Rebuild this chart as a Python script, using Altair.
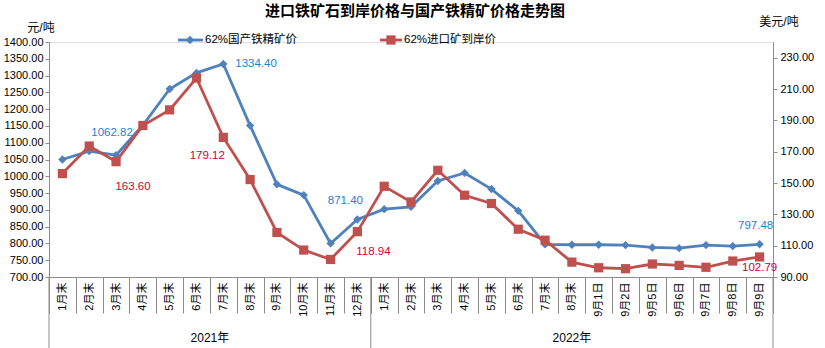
import altair as alt
import pandas as pd

years = ["2021"] * 12 + ["2022"] * 15
categories = ["1月末", "2月末", "3月末", "4月末", "5月末", "6月末", "7月末", "8月末", "9月末", "10月末", "11月末", "12月末",
              "1月末", "2月末", "3月末", "4月末", "5月末", "6月末", "7月末", "8月末",
              "9月1日", "9月2日", "9月5日", "9月6日", "9月7日", "9月8日", "9月9日"]
domestic = [1050, 1075, 1062.82, 1152, 1260, 1308, 1334.40, 1151, 976, 944, 800, 871.40,
            902, 909, 986, 1010, 962, 897, 797, 796, 796, 795, 788, 786, 795, 792, 797.48]
imported = [156, 173.6, 163.60, 186.7, 196.7, 217, 179.12, 152.2, 118.4, 107.2, 101.2, 118.94,
            147.9, 137.9, 158.1, 142.2, 136.9, 120.5, 113.5, 99.5, 95.9, 95.3, 98.3, 97.4, 96.2, 100.2, 102.79]
left_ticks = list(range(700, 1401, 50))
right_ticks = list(range(90, 231, 20))
series_names = ["62%国产铁精矿价", "62%进口矿到岸价"]
group_names = ["2021年", "2022年"]

keys = [f"{y}|{c}" for y, c in zip(years, categories)]
df = pd.DataFrame({"idx": list(range(len(keys))), "key": keys, "domestic": domestic, "imported": imported})

BLUE = "#4F81BD"
RED = "#C0504D"
BLUE_TXT = "#1F7FD6"
RED_TXT = "#CC0033"
GRAY = "#8C8C8C"
FONT = "Liberation Sans, Noto Sans CJK SC"

W, H = 724, 235

xenc = alt.X("key:N", sort=None, title=None,
             scale=alt.Scale(type="band", paddingInner=0, paddingOuter=0),
             axis=alt.Axis(labelAngle=270, labelExpr="split(datum.value, '|')[1]",
                           tickBand="extent", tickSize=36, tickColor=GRAY, domainColor=GRAY,
                           labelPadding=-31, labelFontSize=11, labelFont=FONT, labelColor="black",
                           labelAlign="right", labelBaseline="middle"))

yl = alt.Y("domestic:Q", title=None,
           scale=alt.Scale(domain=[700, 1400], nice=False, zero=False),
           axis=alt.Axis(orient="left", values=left_ticks, format=".2f", grid=False,
                         tickSize=4, tickColor=GRAY, domainColor=GRAY, labelPadding=2,
                         labelFontSize=11, labelFont=FONT, labelColor="black"))
yr = alt.Y("imported:Q", title=None,
           scale=alt.Scale(domain=[90, 240], nice=False, zero=False),
           axis=alt.Axis(orient="right", values=right_ticks, format=".2f", grid=False,
                         tickSize=4, tickColor=GRAY, domainColor=GRAY, labelPadding=3,
                         labelFontSize=11, labelFont=FONT, labelColor="black"))

base = alt.Chart(df)

blue_line = base.mark_line(color=BLUE, strokeWidth=2.8,
                           point=alt.OverlayMarkDef(shape="diamond", size=70, filled=True, color=BLUE, opacity=1)
                           ).encode(x=xenc, y=yl)
red_line = base.mark_line(color=RED, strokeWidth=2.8,
                          point=alt.OverlayMarkDef(shape="square", size=85, filled=True, color=RED, opacity=1)
                          ).encode(x=xenc, y=yr)

blue_label_specs = [(2, -4, -22, "center"), (6, 12, 0, "left"), (11, -12, -18, "center"), (26, -4, -18, "center")]
red_label_specs = [(2, 17, 25, "center"), (6, -16, 19, "center"), (11, 16, 20, "center"), (26, 0, 11, "center")]

blue_layers = [blue_line]
for i, dx, dy, al in blue_label_specs:
    blue_layers.append(base.transform_filter(f"datum.idx == {i}").mark_text(
        color=BLUE_TXT, fontSize=11.5, font=FONT, dx=dx, dy=dy, align=al, baseline="middle"
    ).encode(x=xenc, y=yl, text=alt.Text("domestic:Q", format=".2f")))

red_layers = [red_line]
for i, dx, dy, al in red_label_specs:
    red_layers.append(base.transform_filter(f"datum.idx == {i}").mark_text(
        color=RED_TXT, fontSize=11.5, font=FONT, dx=dx, dy=dy, align=al, baseline="middle"
    ).encode(x=xenc, y=yr, text=alt.Text("imported:Q", format=".2f")))

blue = alt.layer(*blue_layers)
red = alt.layer(*red_layers)

# group labels under the x axis
grp_df = pd.DataFrame({"key": [keys[5], keys[19]], "name": group_names})
grp_text_2021 = alt.Chart(grp_df.iloc[[0]]).mark_text(fontSize=12, font=FONT, color="black", baseline="middle").encode(
    x=alt.X("key:N", sort=None, bandPosition=1, title=None), y=alt.value(296), text="name:N")
grp_text_2022 = alt.Chart(grp_df.iloc[[1]]).mark_text(fontSize=12, font=FONT, color="black", baseline="middle").encode(
    x=alt.X("key:N", sort=None, bandPosition=0.5, title=None), y=alt.value(296), text="name:N")

sep_df = pd.DataFrame({"key": [keys[0], keys[12]]})
sep_start = alt.Chart(sep_df).mark_rule(color=GRAY, strokeWidth=1).encode(
    x=alt.X("key:N", sort=None, bandPosition=0, title=None), y=alt.value(H), y2=alt.value(306))
sep_end = alt.Chart(pd.DataFrame({"key": [keys[-1]]})).mark_rule(color=GRAY, strokeWidth=1).encode(
    x=alt.X("key:N", sort=None, bandPosition=1, title=None), y=alt.value(H), y2=alt.value(306))

# title and axis titles
one = pd.DataFrame({"t": ["进口铁矿石到岸价格与国产铁精矿价格走势图"]})
title = alt.Chart(one).mark_text(fontSize=15, fontWeight="bold", font="Noto Sans CJK SC", color="black",
                                 baseline="middle").encode(x=alt.value(366), y=alt.value(-31), text="t:N")
ytl = alt.Chart(pd.DataFrame({"t": ["元/吨"]})).mark_text(fontSize=12, font=FONT, color="black",
                                                        baseline="middle").encode(x=alt.value(-8), y=alt.value(-14), text="t:N")
ytr = alt.Chart(pd.DataFrame({"t": ["美元/吨"]})).mark_text(fontSize=12, font=FONT, color="black",
                                                          baseline="middle").encode(x=alt.value(730), y=alt.value(-20), text="t:N")

# legend
leg1 = pd.DataFrame({"t": [series_names[0]]})
leg2 = pd.DataFrame({"t": [series_names[1]]})
leg_layers = [
    alt.Chart(leg1).mark_rule(color=BLUE, strokeWidth=2.8).encode(x=alt.value(129), x2=alt.value(154), y=alt.value(-2)),
    alt.Chart(leg1).mark_point(shape="diamond", size=70, filled=True, color=BLUE, opacity=1).encode(x=alt.value(141), y=alt.value(-2)),
    alt.Chart(leg1).mark_text(fontSize=11.5, font=FONT, color="black", align="left", baseline="middle").encode(
        x=alt.value(156), y=alt.value(-2), text="t:N"),
    alt.Chart(leg2).mark_rule(color=RED, strokeWidth=2.8).encode(x=alt.value(331), x2=alt.value(353), y=alt.value(-2)),
    alt.Chart(leg2).mark_point(shape="square", size=85, filled=True, color=RED, opacity=1).encode(x=alt.value(342), y=alt.value(-2)),
    alt.Chart(leg2).mark_text(fontSize=11.5, font=FONT, color="black", align="left", baseline="middle").encode(
        x=alt.value(355), y=alt.value(-2), text="t:N"),
]

chart = alt.layer(
    blue, red, grp_text_2021, grp_text_2022, sep_start, sep_end, title, ytl, ytr, *leg_layers
).resolve_scale(y="independent").properties(
    width=W, height=H,
    autosize=alt.AutoSizeParams(type="none"),
    padding={"left": 49, "top": 42, "right": 52, "bottom": 71},
).configure_view(stroke=None).configure(background="white")

chart.save("out.html", embed_options={"renderer": "svg", "actions": False})
